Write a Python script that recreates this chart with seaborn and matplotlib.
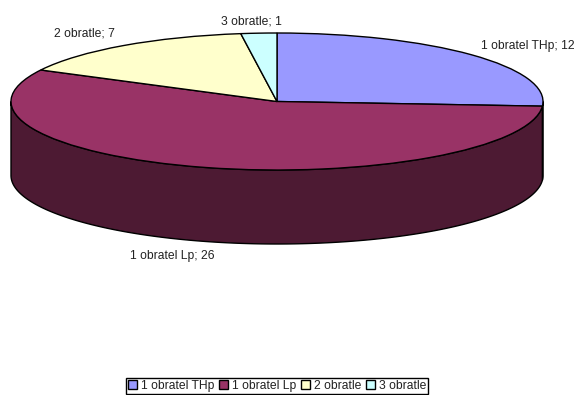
import numpy as np
import matplotlib
matplotlib.use("Agg")
import matplotlib.pyplot as plt
from matplotlib.patches import Patch, Polygon
import seaborn as sns

categories = ["1 obratel THp", "1 obratel Lp", "2 obratle", "3 obratle"]
counts = [12, 26, 7, 1]
top_colors = ["#9999FF", "#993366", "#FFFFCC", "#CCFFFF"]
side_colors = ["#4D4D80", "#4D1A33", "#808066", "#668080"]

sns.set_theme(style="white")
plt.rcParams["font.family"] = ["Liberation Sans", "DejaVu Sans"]
palette = sns.color_palette(top_colors)
side_palette = sns.color_palette(side_colors)

W, H = 576, 395
CX, CY, RX, RY = 277.0, 101.5, 266.0, 68.5
DEPTH = 74.0 / RY
FONT_SIZE = 8.75


def px(x, y):
    """Convert canvas pixels (origin top left) to pie data units."""
    return (x - CX) / RX, (CY - y) / RY


fig = plt.figure(figsize=(W / 100, H / 100), dpi=100, facecolor="white")
ax = fig.add_axes([0, 0, 1, 1])

# Top face of the disc: a regular pie, squashed later by the axis limits.
wedges, _ = ax.pie(
    counts,
    colors=palette,
    startangle=90,
    counterclock=False,
    radius=1,
    wedgeprops={"edgecolor": "black", "linewidth": 1.0, "zorder": 3},
)

# Extruded rim, visible only along the front half of the disc.
edges = np.cumsum([0] + counts) / sum(counts) * 360.0
for start, stop, color in zip(edges[:-1], edges[1:], side_palette):
    lo, hi = max(start, 90.0), min(stop, 270.0)
    if hi <= lo:
        continue
    t = np.radians(np.linspace(lo, hi, 200))
    xs, ys = np.sin(t), np.cos(t)
    rim = np.column_stack(
        [np.r_[xs, xs[::-1]], np.r_[ys, ys[::-1] - DEPTH]]
    )
    ax.add_patch(
        Polygon(rim, closed=True, facecolor=color, edgecolor="black",
                linewidth=1.0, zorder=2)
    )

ax.set_aspect("auto")
ax.set_xlim(px(0, 0)[0], px(W, 0)[0])
ax.set_ylim(px(0, H)[1], px(0, 0)[1])
ax.axis("off")

# Slice labels in the "name; value" form.
label_anchors = [(527.5, 45.5), (172, 255.5), (84, 34), (251.5, 21.5)]
for name, value, (lx, ly) in zip(categories, counts, label_anchors):
    dx, dy = px(lx, ly)
    ax.text(dx, dy, f"{name}; {value}", ha="center", va="center",
            fontsize=FONT_SIZE, color="#222222", zorder=5)

# Legend in a thin black frame along the bottom edge.
handles = [Patch(facecolor=c, edgecolor="black", linewidth=1.0) for c in palette]
leg = fig.legend(
    handles, categories,
    loc="center", bbox_to_anchor=(277 / W, 1 - 386 / H),
    ncol=4, frameon=True, fancybox=False, edgecolor="black", framealpha=1,
    fontsize=FONT_SIZE, handlelength=0.73, handleheight=0.73, handletextpad=0.3,
    columnspacing=0.42, borderpad=0.2, borderaxespad=0,
    labelcolor="#222222",
)
leg.get_frame().set_linewidth(1.0)

fig.savefig("out.png", dpi=100, facecolor="white")
